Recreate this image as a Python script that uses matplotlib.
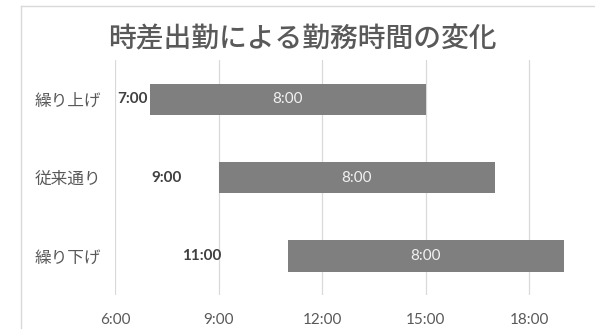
import matplotlib
matplotlib.use('Agg')
import matplotlib.pyplot as plt
from matplotlib.lines import Line2D

# Work shift data (hours of day)
categories = ['繰り上げ', '従来通り', '繰り下げ']
start_hours = [7, 9, 11]
work_hours = [8, 8, 8]
tick_hours = [6, 9, 12, 15, 18]

plt.rcParams['font.family'] = ['Lato', 'Noto Sans CJK JP', 'DejaVu Sans']

W, H = 595, 329
fig = plt.figure(figsize=(W / 100, H / 100), dpi=100)
fig.patch.set_facecolor('white')

x_min, x_max = 6, 19.5
ax = fig.add_axes([115 / W, 34 / H, (581 - 115) / W, 235 / H])

ypos = list(range(len(categories)))
ax.barh(ypos, work_hours, left=start_hours, height=0.4, color='#7f7f7f', zorder=2)

# start time labels sit in the empty span before each bar
for y, s in zip(ypos, start_hours):
    ax.text((x_min + s) / 2, y, f'{s}:00', ha='center', va='center',
            fontsize=11, fontweight='bold', color='#404040', zorder=3)

# duration labels centred on each bar
for y, s, w in zip(ypos, start_hours, work_hours):
    ax.text(s + w / 2, y, f'{w}:00', ha='center', va='center',
            fontsize=11, color='#f2f2f2', zorder=3)

ax.set_xlim(x_min, x_max)
ax.set_ylim(len(categories) - 0.5, -0.5)
ax.set_xticks(tick_hours)
ax.set_xticklabels([f'{h}:00' for h in tick_hours])
ax.set_yticks(ypos)
ax.set_yticklabels(categories)
ax.tick_params(axis='x', length=0, pad=13, labelsize=11, labelcolor='#595959')
ax.tick_params(axis='y', length=0, pad=10, labelsize=12, labelcolor='#595959')
ax.grid(axis='x', color='#d9d9d9', linewidth=0.9, zorder=0)
ax.set_axisbelow(True)
for sp in ax.spines.values():
    sp.set_visible(False)

fig.text(302 / W, 1 - 39 / H, '時差出勤による勤務時間の変化', ha='center', va='center',
         fontsize=20, fontweight='medium', color='#595959')

# chart frame
fx, fy = 20.5 / W, 1 - 5.5 / H
fig.add_artist(Line2D([fx, fx], [0, fy], transform=fig.transFigure, color='#d9d9d9', linewidth=1))
fig.add_artist(Line2D([fx, 1], [fy, fy], transform=fig.transFigure, color='#d9d9d9', linewidth=1))

fig.savefig('out.png', dpi=100)
